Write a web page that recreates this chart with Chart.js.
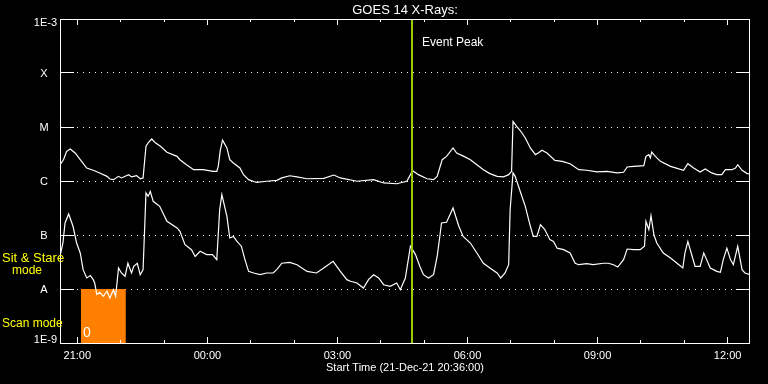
<!DOCTYPE html>
<html>
<head>
<meta charset="utf-8">
<script src="https://cdn.jsdelivr.net/npm/chart.js@4.4.0/dist/chart.umd.min.js"></script>
<style>
html, body { margin: 0; padding: 0; background: #000; }
#wrap { width: 768px; height: 384px; position: relative; }
</style>
</head>
<body>
<div id="wrap"><canvas id="goes"></canvas></div>
<script>
// times are minutes after the start time (21-Dec-21 20:36:00)
var startMinutes = 20 * 60 + 36;
var endMinutes = 955;

// GOES long channel (1-8 A), W/m^2
var longTimes = [0,5,9,14,21,28,37,46,55,65,69,74,81,85,95,99,106,111,115,119,122,127,132,139,148,162,166,175,185,198,212,217,219,222,225,231,235,240,249,254,261,272,286,300,307,318,328,342,365,379,388,411,434,448,466,480,488,496,508,517,522,529,535,544,549,559,568,577,586,595,605,614,621,625,627,632,637,644,651,658,662,667,674,685,695,706,718,729,743,757,771,780,785,794,808,811,815,817,819,824,831,845,863,869,877,886,893,902,909,916,921,930,935,938,944,951,955];
var longFlux = [2.0e-6,2.5e-6,3.5e-6,3.9e-6,3.3e-6,2.5e-6,1.74e-6,1.58e-6,1.41e-6,1.22e-6,1.09e-6,1.06e-6,1.22e-6,1.14e-6,1.31e-6,1.19e-6,1.26e-6,1.10e-6,1.14e-6,4.4e-6,5.1e-6,6.0e-6,5.1e-6,4.4e-6,3.4e-6,2.86e-6,2.48e-6,2.0e-6,1.62e-6,1.62e-6,1.51e-6,1.51e-6,1.87e-6,3.8e-6,5.7e-6,4.1e-6,2.48e-6,2.15e-6,1.74e-6,1.31e-6,1.06e-6,9.4e-7,9.9e-7,1.03e-6,1.14e-6,1.25e-6,1.19e-6,1.10e-6,1.12e-6,1.29e-6,1.14e-6,9.9e-7,1.06e-6,9.2e-7,8.9e-7,9.9e-7,1.55e-6,1.31e-6,1.10e-6,1.06e-6,1.22e-6,2.48e-6,2.86e-6,4.1e-6,3.3e-6,2.86e-6,2.48e-6,2.0e-6,1.62e-6,1.37e-6,1.22e-6,1.19e-6,1.31e-6,1.51e-6,1.27e-5,1.03e-5,8.6e-6,6.25e-6,4.1e-6,3.08e-6,3.3e-6,3.7e-6,3.3e-6,2.41e-6,2.31e-6,2.09e-6,1.62e-6,1.58e-6,1.47e-6,1.51e-6,1.41e-6,1.45e-6,1.82e-6,1.87e-6,1.92e-6,2.86e-6,3.08e-6,2.67e-6,3.44e-6,2.86e-6,2.31e-6,1.87e-6,1.58e-6,2.09e-6,1.74e-6,1.47e-6,1.67e-6,1.41e-6,1.31e-6,1.31e-6,1.62e-6,1.62e-6,1.74e-6,2.0e-6,1.58e-6,1.37e-6,1.35e-6];

// GOES short channel (0.5-4 A), W/m^2
var shortTimes = [0,4,7,12,18,23,28,32,37,42,46,48,51,55,60,65,69,74,77,81,85,90,94,99,102,107,111,115,119,122,125,129,138,148,162,166,173,182,187,194,203,211,217,221,224,231,235,240,245,251,256,261,268,277,286,295,300,307,318,328,342,355,365,378,388,397,402,411,420,427,434,441,448,457,466,471,478,485,492,498,503,510,517,522,526,528,535,544,552,558,568,577,586,595,605,610,616,621,623,627,630,637,644,651,655,660,665,671,678,683,688,697,706,713,718,729,738,752,759,766,772,780,785,794,803,809,811,815,818,822,826,835,845,854,862,865,869,875,879,886,891,895,900,909,914,918,923,928,932,938,944,948,955];
var shortFlux = [4.0e-8,7.1e-8,1.67e-7,2.45e-7,1.45e-7,7.1e-8,4.65e-8,2.28e-8,1.6e-8,1.77e-8,1.49e-8,1.29e-8,7.9e-9,8.7e-9,7.3e-9,9.1e-9,6.8e-9,9.7e-9,7.3e-9,2.45e-8,1.98e-8,1.72e-8,3.0e-8,1.98e-8,2.63e-8,3.0e-8,1.84e-8,2.28e-8,6.0e-7,5.2e-7,6.4e-7,4.2e-7,3.4e-7,1.79e-7,1.35e-7,1.17e-7,6.6e-8,5.35e-8,4.0e-8,5.0e-8,4.33e-8,4.33e-8,3.5e-8,2.94e-7,5.6e-7,2.22e-7,8.8e-8,9.4e-8,7.6e-8,6.2e-8,3.5e-8,2.12e-8,1.98e-8,1.84e-8,1.98e-8,1.98e-8,2.28e-8,3.0e-8,3.1e-8,2.82e-8,2.12e-8,1.98e-8,2.45e-8,3.25e-8,2.12e-8,1.49e-8,1.39e-8,1.29e-8,1.04e-8,1.49e-8,1.84e-8,1.6e-8,1.2e-8,1.12e-8,1.29e-8,9.7e-9,1.6e-8,6.2e-8,4.33e-8,2.63e-8,1.84e-8,1.6e-8,1.84e-8,4.0e-8,1.01e-7,1.67e-7,1.72e-7,3.16e-7,1.45e-7,9.4e-8,7.1e-8,4.65e-8,3.0e-8,2.45e-8,1.98e-8,1.6e-8,1.98e-8,2.82e-8,2.94e-7,1.41e-6,1.22e-6,6.4e-7,3.4e-7,1.45e-7,9.4e-8,9.4e-8,1.55e-7,1.26e-7,8.2e-8,7.6e-8,5.7e-8,5.35e-8,4.65e-8,3.0e-8,2.82e-8,2.94e-8,2.82e-8,3.0e-8,3.0e-8,2.82e-8,2.55e-8,3.5e-8,5.5e-8,5.35e-8,5.35e-8,6.2e-8,1.79e-7,1.26e-7,2.28e-7,1.01e-7,7.1e-8,4.65e-8,3.75e-8,3.0e-8,2.45e-8,4.65e-8,7.6e-8,4.0e-8,2.63e-8,2.63e-8,4.65e-8,3.5e-8,2.45e-8,2.12e-8,2.04e-8,3.5e-8,5.7e-8,3.5e-8,2.82e-8,6.2e-8,2.28e-8,1.98e-8,1.84e-8];

var decadeValues = [1e-9, 1e-8, 1e-7, 1e-6, 1e-5, 1e-4, 1e-3];
var decadeLabels = ['1E-9', 'A', 'B', 'C', 'M', 'X', '1E-3'];
var scanWindow = [29, 91];      // scan mode interval, minutes
var eventPeak = 487;            // minutes after start (04:43)

function toPoints(times, values) {
    return times.map(function (t, i) { return { x: t, y: values[i] }; });
}

function clock(m) {
    var t = (startMinutes + m) % 1440;
    var h = Math.floor(t / 60), mm = t % 60;
    return (h < 10 ? '0' : '') + h + ':' + (mm < 10 ? '0' : '') + mm;
}

var font = '"Liberation Sans", Arial, sans-serif';

var goesDecor = {
    id: 'goesDecor',
    beforeDatasetsDraw: function (chart) {
        var ctx = chart.ctx, xs = chart.scales.x, ys = chart.scales.y, a = chart.chartArea;
        ctx.save();
        // dotted decade lines with solid ticks at both sides
        ctx.strokeStyle = '#fff';
        ctx.lineWidth = 1;
        for (var i = 1; i < decadeValues.length - 1; i++) {
            var y = Math.floor(ys.getPixelForValue(decadeValues[i])) + 0.5;
            ctx.setLineDash([]);
            ctx.beginPath();
            ctx.moveTo(a.left, y); ctx.lineTo(a.left + 14, y);
            ctx.moveTo(a.right - 14, y); ctx.lineTo(a.right, y);
            ctx.stroke();
            ctx.setLineDash([1, 5]);
            ctx.beginPath();
            ctx.moveTo(a.left + 17, y); ctx.lineTo(a.right - 14, y);
            ctx.stroke();
        }
        ctx.setLineDash([]);
        // scan mode box
        var x0 = xs.getPixelForValue(scanWindow[0]), x1 = xs.getPixelForValue(scanWindow[1]);
        var y0 = ys.getPixelForValue(1e-8), y1 = ys.getPixelForValue(1e-9);
        ctx.fillStyle = '#ff8000';
        ctx.fillRect(x0, y0, x1 - x0, y1 - y0);
        ctx.fillStyle = '#fff';
        ctx.font = '14px ' + font;
        ctx.textAlign = 'left';
        ctx.textBaseline = 'middle';
        ctx.fillText('0', x0 + 2, y1 - 10);
        ctx.restore();
    },
    afterDatasetsDraw: function (chart) {
        var ctx = chart.ctx, xs = chart.scales.x, ys = chart.scales.y, a = chart.chartArea;
        ctx.save();
        // event peak marker
        var px = Math.round(xs.getPixelForValue(eventPeak));
        ctx.fillStyle = '#99cc00';
        ctx.fillRect(px - 1, a.top, 2, a.bottom - a.top);

        // frame
        ctx.strokeStyle = '#fff';
        ctx.lineWidth = 1;
        ctx.strokeRect(a.left + 0.5, a.top + 0.5, a.right - a.left - 1, a.bottom - a.top);

        // hour ticks on top and bottom
        ctx.beginPath();
        for (var m = 24; m <= endMinutes; m += 60) {
            var x = Math.floor(xs.getPixelForValue(m)) + 0.5;
            var len = ((m - 24) / 60) % 3 === 0 ? 6 : 3;
            ctx.moveTo(x, a.bottom); ctx.lineTo(x, a.bottom - len);
            ctx.moveTo(x, a.top); ctx.lineTo(x, a.top + len);
        }
        ctx.stroke();

        ctx.fillStyle = '#fff';
        ctx.font = '11px ' + font;
        ctx.textBaseline = 'middle';
        ctx.textAlign = 'center';
        for (var m2 = 24; m2 <= endMinutes; m2 += 180) {
            ctx.fillText(clock(m2), xs.getPixelForValue(m2), a.bottom + 13);
        }
        ctx.fillText('Start Time (21-Dec-21 20:36:00)', (a.left + a.right) / 2, a.bottom + 25);

        // y labels
        for (var i = 0; i < decadeValues.length; i++) {
            var y = ys.getPixelForValue(decadeValues[i]);
            if (i === 0) {
                ctx.textAlign = 'right';
                ctx.fillText(decadeLabels[i], a.left - 3, y - 3);
            } else if (i === decadeValues.length - 1) {
                ctx.textAlign = 'right';
                ctx.fillText(decadeLabels[i], a.left - 3, y + 4);
            } else {
                ctx.textAlign = 'center';
                ctx.fillText(decadeLabels[i], a.left - 16, y + 1);
            }
        }

        // title and marker label
        ctx.textAlign = 'center';
        ctx.font = '13px ' + font;
        ctx.fillText('GOES 14 X-Rays:', (a.left + a.right) / 2, 10);
        ctx.textAlign = 'left';
        ctx.font = '12px ' + font;
        ctx.fillText('Event Peak', px + 10, 43);

        // mode labels
        ctx.fillStyle = '#ffff00';
        ctx.font = '13px ' + font;
        ctx.fillText('Sit & Stare', 2, 258);
        ctx.font = '12px ' + font;
        ctx.fillText('mode', 12, 271);
        ctx.fillText('Scan mode', 2, 324);
        ctx.restore();
    }
};

var chart = new Chart(document.getElementById('goes'), {
    type: 'line',
    data: {
        datasets: [{
            data: toPoints(longTimes, longFlux),
            borderColor: '#fff',
            borderWidth: 1.2,
            pointRadius: 0,
            tension: 0
        }, {
            data: toPoints(shortTimes, shortFlux),
            borderColor: '#fff',
            borderWidth: 1.2,
            pointRadius: 0,
            tension: 0
        }]
    },
    options: {
        responsive: true,
        maintainAspectRatio: false,
        animation: false,
        layout: { padding: { left: 60, right: 18, top: 19, bottom: 41 } },
        scales: {
            x: { type: 'linear', min: 0, max: endMinutes, display: false },
            y: { type: 'logarithmic', min: 1e-9, max: 1e-3, display: false }
        },
        plugins: {
            legend: { display: false },
            tooltip: { enabled: false }
        }
    },
    plugins: [goesDecor]
});
</script>
</body>
</html>
